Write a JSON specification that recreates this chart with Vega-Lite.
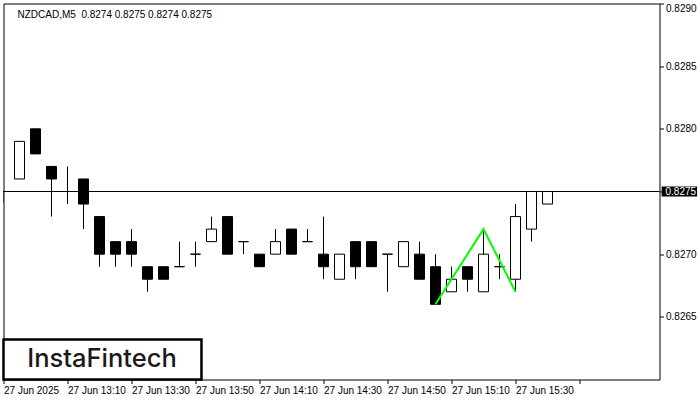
{
  "$schema": "https://vega.github.io/schema/vega-lite/v6.json",
  "width": 656,
  "height": 376,
  "autosize": {"type": "none"},
  "padding": {"left": 3.5, "top": 3.5, "right": 40.5, "bottom": 20.5},
  "background": "white",
  "config": {"view": {"stroke": "black", "strokeWidth": 1}, "font": "Liberation Sans"},
  "title": {"text": "NZDCAD,M5\u00a0 0.8274 0.8275 0.8274 0.8275", "anchor": "start", "frame": "group", "fontSize": 10, "fontWeight": "normal", "color": "black", "offset": -17, "dx": 14},
  "datasets": {
    "candles": [
      {"t": "2025-06-27T12:50", "open": 0.8275, "high": 0.82751, "low": 0.82741, "close": 0.8275},
      {"t": "2025-06-27T12:55", "open": 0.8276, "high": 0.8279, "low": 0.8276, "close": 0.8279},
      {"t": "2025-06-27T13:00", "open": 0.8280, "high": 0.8280, "low": 0.8278, "close": 0.8278},
      {"t": "2025-06-27T13:05", "open": 0.8277, "high": 0.8277, "low": 0.8273, "close": 0.8276},
      {"t": "2025-06-27T13:10", "open": 0.8275, "high": 0.8277, "low": 0.8274, "close": 0.8275},
      {"t": "2025-06-27T13:15", "open": 0.8276, "high": 0.8276, "low": 0.8272, "close": 0.8274},
      {"t": "2025-06-27T13:20", "open": 0.8273, "high": 0.8273, "low": 0.8269, "close": 0.8270},
      {"t": "2025-06-27T13:25", "open": 0.8271, "high": 0.8271, "low": 0.8269, "close": 0.8270},
      {"t": "2025-06-27T13:30", "open": 0.8271, "high": 0.8272, "low": 0.8269, "close": 0.8270},
      {"t": "2025-06-27T13:35", "open": 0.8269, "high": 0.8269, "low": 0.8267, "close": 0.8268},
      {"t": "2025-06-27T13:40", "open": 0.8269, "high": 0.8269, "low": 0.8268, "close": 0.8268},
      {"t": "2025-06-27T13:45", "open": 0.8269, "high": 0.8271, "low": 0.8269, "close": 0.8269},
      {"t": "2025-06-27T13:50", "open": 0.8270, "high": 0.8271, "low": 0.8269, "close": 0.8270},
      {"t": "2025-06-27T13:55", "open": 0.8271, "high": 0.8273, "low": 0.8271, "close": 0.8272},
      {"t": "2025-06-27T14:00", "open": 0.8273, "high": 0.8273, "low": 0.8270, "close": 0.8270},
      {"t": "2025-06-27T14:05", "open": 0.8271, "high": 0.8271, "low": 0.8270, "close": 0.8271},
      {"t": "2025-06-27T14:10", "open": 0.8270, "high": 0.8270, "low": 0.8269, "close": 0.8269},
      {"t": "2025-06-27T14:15", "open": 0.8270, "high": 0.8272, "low": 0.8270, "close": 0.8271},
      {"t": "2025-06-27T14:20", "open": 0.8272, "high": 0.8272, "low": 0.8270, "close": 0.8270},
      {"t": "2025-06-27T14:25", "open": 0.8271, "high": 0.8272, "low": 0.8271, "close": 0.8271},
      {"t": "2025-06-27T14:30", "open": 0.8270, "high": 0.8273, "low": 0.8268, "close": 0.8269},
      {"t": "2025-06-27T14:35", "open": 0.8268, "high": 0.8270, "low": 0.8268, "close": 0.8270},
      {"t": "2025-06-27T14:40", "open": 0.8271, "high": 0.8271, "low": 0.8268, "close": 0.8269},
      {"t": "2025-06-27T14:45", "open": 0.8271, "high": 0.8271, "low": 0.8269, "close": 0.8269},
      {"t": "2025-06-27T14:50", "open": 0.8270, "high": 0.8270, "low": 0.8267, "close": 0.8270},
      {"t": "2025-06-27T14:55", "open": 0.8269, "high": 0.8271, "low": 0.8269, "close": 0.8271},
      {"t": "2025-06-27T15:00", "open": 0.8270, "high": 0.8271, "low": 0.8268, "close": 0.8268},
      {"t": "2025-06-27T15:05", "open": 0.8269, "high": 0.8270, "low": 0.8266, "close": 0.8266},
      {"t": "2025-06-27T15:10", "open": 0.8267, "high": 0.8269, "low": 0.8267, "close": 0.8268},
      {"t": "2025-06-27T15:15", "open": 0.8269, "high": 0.8269, "low": 0.8267, "close": 0.8268},
      {"t": "2025-06-27T15:20", "open": 0.8267, "high": 0.8272, "low": 0.8267, "close": 0.8270},
      {"t": "2025-06-27T15:25", "open": 0.8269, "high": 0.8270, "low": 0.8268, "close": 0.8269},
      {"t": "2025-06-27T15:30", "open": 0.8268, "high": 0.8274, "low": 0.8267, "close": 0.8273},
      {"t": "2025-06-27T15:35", "open": 0.8272, "high": 0.8275, "low": 0.8271, "close": 0.8275},
      {"t": "2025-06-27T15:40", "open": 0.8274, "high": 0.8275, "low": 0.8274, "close": 0.8275}
    ],
    "pattern": [
      {"t": "2025-06-27T15:05", "price": 0.8266},
      {"t": "2025-06-27T15:20", "price": 0.8272},
      {"t": "2025-06-27T15:30", "price": 0.8267}
    ],
    "one": [{}]
  },
  "layer": [
    {
      "data": {"name": "candles"},
      "mark": {"type": "rule", "color": "black", "strokeWidth": 1, "clip": true},
      "encoding": {
        "x": {"field": "t", "type": "temporal",
          "scale": {"domain": [{"year": 2025, "month": 6, "date": 27, "hours": 12, "minutes": 50}, {"year": 2025, "month": 6, "date": 27, "hours": 16, "minutes": 15}], "padding": 0},
          "axis": {"orient": "bottom", "title": null, "grid": false, "domain": false, "tickSize": 4, "tickColor": "black", "labelAlign": "left", "labelFontSize": 10, "labelColor": "black", "labelPadding": 2, "labelFlush": false, "labelOverlap": false,
            "values": [
              {"year": 2025, "month": 6, "date": 27, "hours": 12, "minutes": 50},
              {"year": 2025, "month": 6, "date": 27, "hours": 13, "minutes": 10},
              {"year": 2025, "month": 6, "date": 27, "hours": 13, "minutes": 30},
              {"year": 2025, "month": 6, "date": 27, "hours": 13, "minutes": 50},
              {"year": 2025, "month": 6, "date": 27, "hours": 14, "minutes": 10},
              {"year": 2025, "month": 6, "date": 27, "hours": 14, "minutes": 30},
              {"year": 2025, "month": 6, "date": 27, "hours": 14, "minutes": 50},
              {"year": 2025, "month": 6, "date": 27, "hours": 15, "minutes": 10},
              {"year": 2025, "month": 6, "date": 27, "hours": 15, "minutes": 30},
              {"year": 2025, "month": 6, "date": 27, "hours": 15, "minutes": 50}
            ],
            "labelExpr": "timeFormat(datum.value, '%H:%M') == '12:50' ? '27 Jun 2025' : (timeFormat(datum.value, '%H:%M') == '15:50' ? '' : '27 Jun ' + timeFormat(datum.value, '%H:%M'))"}},
        "y": {"field": "low", "type": "quantitative",
          "scale": {"domain": [0.826, 0.829], "zero": false, "nice": false},
          "axis": {"orient": "right", "title": null, "grid": false, "domain": false, "tickSize": 4, "tickColor": "black", "labelFontSize": 10, "labelColor": "black", "labelPadding": 2, "labelFlush": true,
            "values": [0.8265, 0.827, 0.8275, 0.828, 0.8285, 0.829], "format": ".4f",
            "labelExpr": "abs(datum.value - 0.8275) < 0.000001 ? '' : datum.label"}},
        "y2": {"field": "high"}
      }
    },
    {
      "data": {"name": "one"},
      "mark": {"type": "rule", "color": "black", "strokeWidth": 1},
      "encoding": {"y": {"datum": 0.8275, "type": "quantitative"}}
    },
    {
      "data": {"name": "candles"},
      "mark": {"type": "bar", "width": 10, "stroke": "black", "strokeWidth": 1, "clip": true},
      "encoding": {
        "x": {"field": "t", "type": "temporal"},
        "y": {"field": "open", "type": "quantitative"},
        "y2": {"field": "close"},
        "fill": {"condition": {"test": "datum.close >= datum.open", "value": "white"}, "value": "black"}
      }
    },
    {
      "data": {"name": "pattern"},
      "mark": {"type": "line", "color": "#00ff00", "strokeWidth": 2},
      "encoding": {
        "x": {"field": "t", "type": "temporal"},
        "y": {"field": "price", "type": "quantitative"}
      }
    },
    {
      "data": {"name": "one"},
      "mark": {"type": "rect", "fill": "white", "stroke": "black", "strokeWidth": 2.5},
      "encoding": {
        "x": {"datum": {"year": 2025, "month": 6, "date": 27, "hours": 12, "minutes": 50}, "type": "temporal"},
        "x2": {"datum": {"year": 2025, "month": 6, "date": 27, "hours": 13, "minutes": 51, "seconds": 52}},
        "y": {"datum": 0.826, "type": "quantitative"},
        "y2": {"datum": 0.82632}
      }
    },
    {
      "data": {"name": "one"},
      "mark": {"type": "text", "text": "InstaFintech", "font": "Inter", "fontSize": 25.5, "fontWeight": 500, "color": "#1a1a1a", "align": "center", "baseline": "middle"},
      "encoding": {
        "x": {"datum": {"year": 2025, "month": 6, "date": 27, "hours": 13, "minutes": 20, "seconds": 47}, "type": "temporal"},
        "y": {"datum": 0.82616, "type": "quantitative"}
      }
    },
    {
      "data": {"name": "one"},
      "mark": {"type": "rect", "fill": "black", "clip": false},
      "encoding": {
        "x": {"datum": {"year": 2025, "month": 6, "date": 27, "hours": 16, "minutes": 15, "seconds": 40}, "type": "temporal"},
        "x2": {"datum": {"year": 2025, "month": 6, "date": 27, "hours": 16, "minutes": 26, "seconds": 45}},
        "y": {"datum": 0.82746, "type": "quantitative"},
        "y2": {"datum": 0.82754}
      }
    },
    {
      "data": {"name": "one"},
      "mark": {"type": "text", "text": "0.8275", "fontSize": 10, "color": "white", "align": "left", "baseline": "middle", "dx": 6, "clip": false},
      "encoding": {
        "x": {"datum": {"year": 2025, "month": 6, "date": 27, "hours": 16, "minutes": 15}, "type": "temporal"},
        "y": {"datum": 0.8275, "type": "quantitative"}
      }
    }
  ]
}
